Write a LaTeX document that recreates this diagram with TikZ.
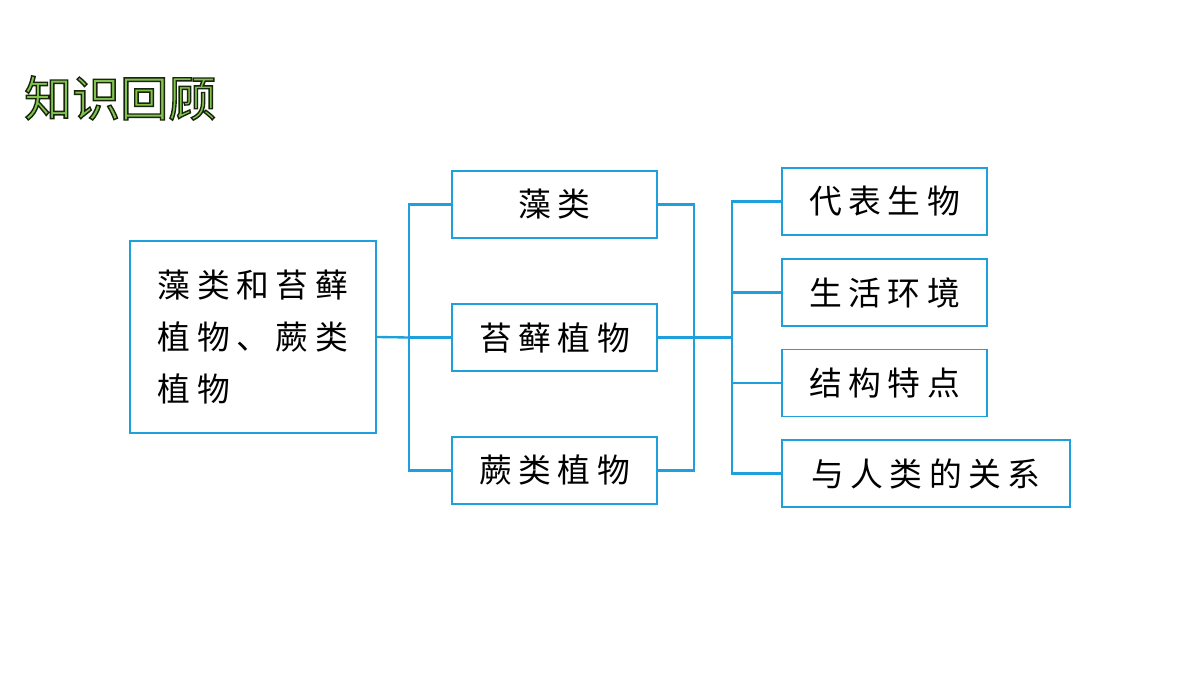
\documentclass[tikz,border=0pt]{standalone}
\usepackage{fontspec}
\newfontfamily\cjk[LetterSpace=20]{Noto Sans CJK SC}
\newfontfamily\cjktitle{Noto Sans CJK SC}
\definecolor{lineblue}{RGB}{30,160,220}
\definecolor{titlegreen}{RGB}{130,195,80}
\newcommand\rimtext[1]{\special{pdf:code q 2 Tr 1.2 w 0.1 0.15 0.05 RG}#1\special{pdf:code Q}}
\begin{document}
\begin{tikzpicture}[x=0.03cm,y=-0.03cm,
  box/.style={draw=lineblue, line width=1.6pt, minimum height=2.01cm, inner sep=0pt,
    font=\cjk\fontsize{28}{44}\selectfont},
  link/.style={lineblue, line width=2pt},
  title/.style={font=\cjktitle\fontsize{41}{41}\selectfont, anchor=west, text=titlegreen}]
% page
\fill[white] (0,0) rectangle (1200,675);
% title
\node[title] (title) at (20,98) {\rimtext{知识回顾}};
% boxes
\node[box, minimum width=7.38cm, minimum height=5.76cm, align=left] (plants) at (253,337) {藻类和苔藓\\植物、蕨类\\植物};
\node[box, minimum width=6.15cm] (algae) at (554.5,204.5) {藻类};
\node[box, minimum width=6.15cm] (moss) at (554.5,337.5) {苔藓植物};
\node[box, minimum width=6.15cm] (fern) at (554.5,470.5) {蕨类植物};
\node[box, minimum width=6.15cm] (example) at (884.5,201.5) {代表生物};
\node[box, minimum width=6.15cm] (habitat) at (884.5,292.5) {生活环境};
\node[box, minimum width=6.15cm] (structure) at (884.5,383) {结构特点};
\node[box, minimum width=8.64cm] (human) at (926,473.5) {与人类的关系};
% junctions
\coordinate (split) at (409,337.5);
\coordinate (merge) at (694,337.5);
\coordinate (fan) at (732,337.5);
% connectors
\draw[link] (plants.east) -- (split);
\draw[link] (split) |- (algae.west);
\draw[link] (split) |- (fern.west);
\draw[link] (split) -- (moss.west);
\draw[link] (algae.east) -| (merge);
\draw[link] (fern.east) -| (merge);
\draw[link] (moss.east) -- (merge) -- (fan);
\draw[link] (fan) |- (example.west);
\draw[link] (fan) |- (habitat.west);
\draw[link] (fan) |- (structure.west);
\draw[link] (fan) |- (human.west);
\end{tikzpicture}
\end{document}
